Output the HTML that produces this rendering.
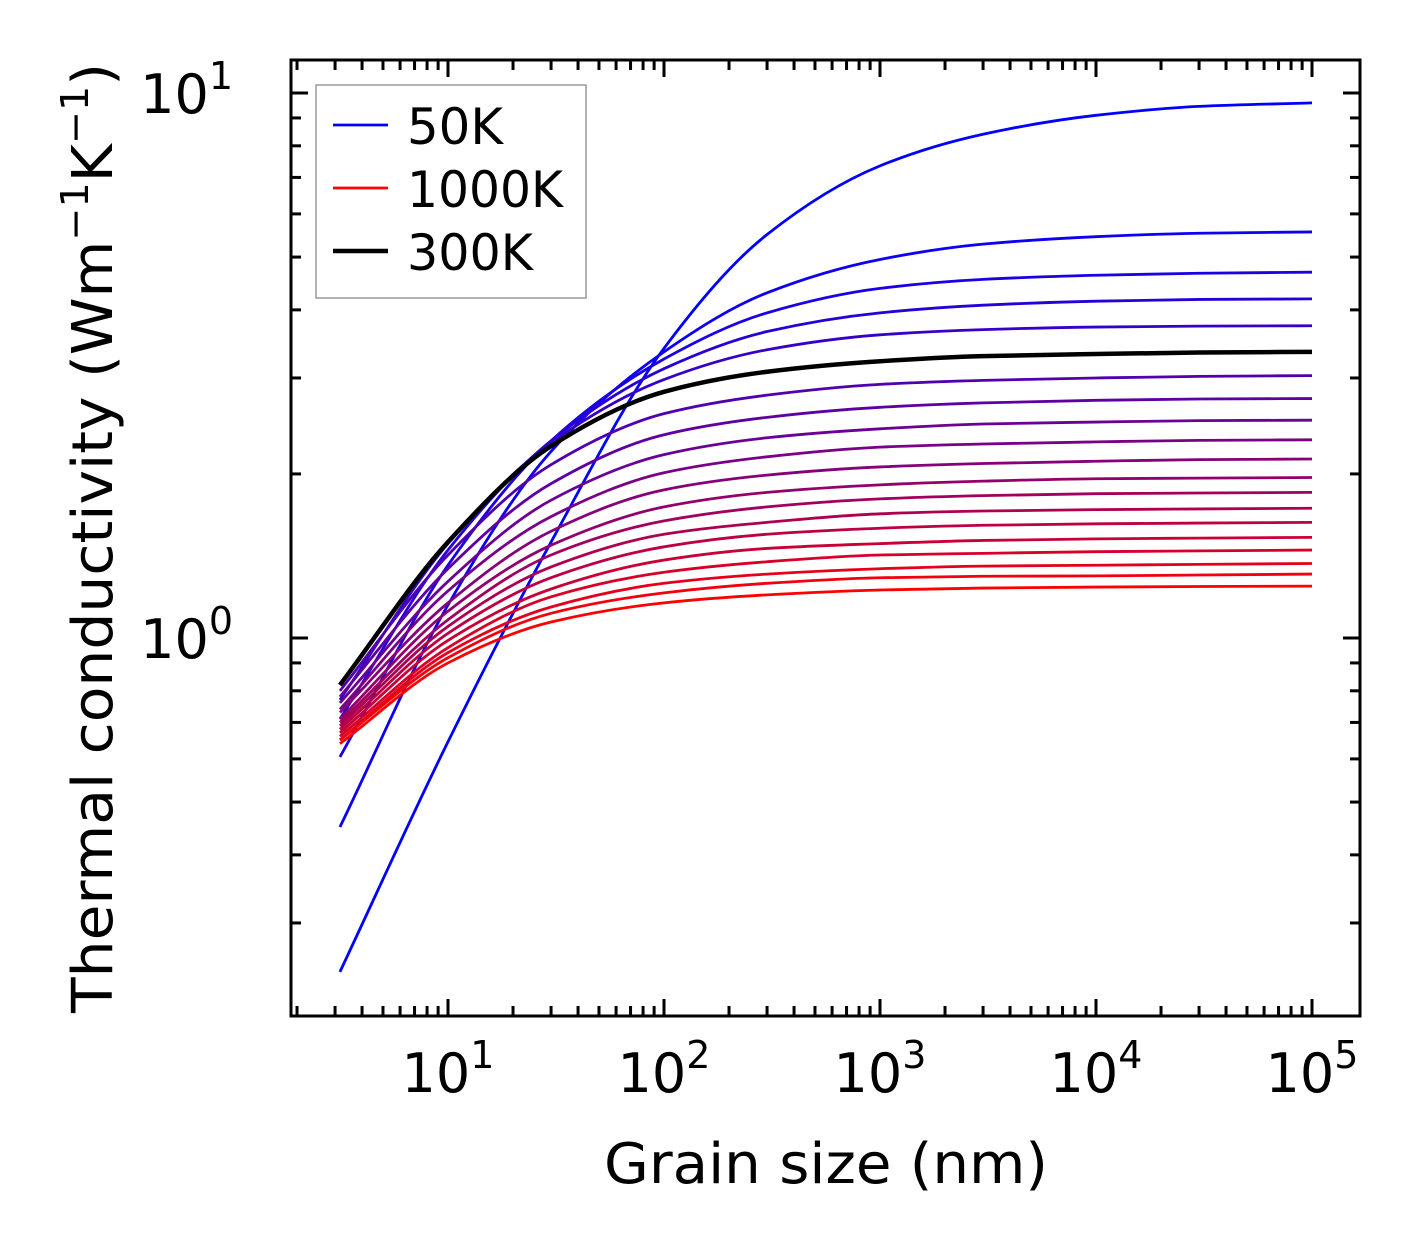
<!DOCTYPE html>
<html><head><meta charset="utf-8"><style>
html,body{margin:0;padding:0;background:#fff}
svg{display:block;font-family:"DejaVu Sans","Liberation Sans",sans-serif}
</style></head><body>
<svg id="chart" width="1421" height="1254" viewBox="0 0 1421 1254" xmlns="http://www.w3.org/2000/svg">
<g id="series"></g>
<g id="axes"></g>
<g>
  <rect x="316" y="85" width="270" height="213" fill="#fff" stroke="#999" stroke-width="1.5"/>
  <line x1="333" y1="125" x2="388" y2="125" stroke="#0000ff" stroke-width="2.8"/>
  <text x="407" y="144" font-size="50" textLength="96" lengthAdjust="spacingAndGlyphs">50K</text>
  <line x1="333" y1="188" x2="388" y2="188" stroke="#ff0000" stroke-width="2.8"/>
  <text x="407" y="207" font-size="50" textLength="156" lengthAdjust="spacingAndGlyphs">1000K</text>
  <line x1="333" y1="251" x2="388" y2="251" stroke="#000" stroke-width="4.5"/>
  <text x="407" y="270" font-size="50" textLength="126" lengthAdjust="spacingAndGlyphs">300K</text>
</g>
<text x="826" y="1183" font-size="56" text-anchor="middle" textLength="444" lengthAdjust="spacingAndGlyphs">Grain size (nm)</text>
<text transform="translate(112,538) rotate(-90)" font-size="56" text-anchor="middle" textLength="950" lengthAdjust="spacingAndGlyphs">Thermal conductivity (Wm<tspan font-size="38" dy="-24">−1</tspan><tspan dy="24">K</tspan><tspan font-size="38" dy="-24">−1</tspan><tspan dy="24">)</tspan></text>
</svg>
<script>
const grainSizes=[3.16,10,30,100,300,1000,3000,10000,30000,100000];
const temperatures=[50,100,150,200,250,300,350,400,450,500,550,600,650,700,750,800,850,900,950,1000];
const k50=[0.244,0.645,1.5,3.4,5.5,7.35,8.4,9.1,9.45,9.59];
const k100=[0.45,1.15,2.2,3.35,4.3,4.95,5.28,5.45,5.53,5.56];
const k150=[0.605,1.36,2.3,3.25,3.95,4.38,4.55,4.63,4.67,4.69];
const k200=[0.71,1.45,2.3,3.12,3.65,3.95,4.08,4.15,4.18,4.19];
const k250=[0.77,1.49,2.28,2.98,3.38,3.6,3.68,3.72,3.735,3.74];
const k300=[0.82,1.5,2.25,2.83,3.08,3.22,3.29,3.32,3.34,3.35];
const k350=[0.80,1.42,2.08,2.58,2.79,2.92,2.97,3.0,3.02,3.03];
const k400=[0.78,1.34,1.92,2.36,2.54,2.65,2.70,2.73,2.745,2.75];
const k450=[0.76,1.27,1.79,2.17,2.33,2.42,2.47,2.49,2.505,2.51];
const k500=[0.74,1.22,1.67,2.01,2.15,2.24,2.27,2.29,2.305,2.31];
const k550=[0.73,1.16,1.57,1.87,1.99,2.06,2.09,2.11,2.125,2.13];
const k600=[0.71,1.12,1.48,1.74,1.85,1.91,1.94,1.96,1.965,1.97];
const k650=[0.70,1.08,1.42,1.64,1.74,1.80,1.825,1.84,1.845,1.85];
const k700=[0.69,1.05,1.35,1.55,1.63,1.69,1.71,1.72,1.725,1.73];
const k750=[0.68,1.02,1.29,1.47,1.55,1.59,1.61,1.62,1.625,1.63];
const k800=[0.67,0.99,1.23,1.39,1.46,1.49,1.51,1.52,1.525,1.53];
const k850=[0.66,0.96,1.19,1.32,1.38,1.42,1.43,1.44,1.445,1.45];
const k900=[0.65,0.94,1.14,1.26,1.31,1.34,1.355,1.36,1.365,1.37];
const k950=[0.65,0.92,1.11,1.21,1.26,1.29,1.298,1.30,1.305,1.31];
const k1000=[0.64,0.9,1.07,1.16,1.2,1.225,1.235,1.24,1.243,1.245];
const allSeries=[k50,k100,k150,k200,k250,k300,k350,k400,k450,k500,k550,k600,k650,k700,k750,k800,k850,k900,k950,k1000];
const highlightSeries=k300;
const xTickLabels=["1","2","3","4","5"];
const yTickLabels=["0","1"];

const NS="http://www.w3.org/2000/svg";
const L=291,R=1360,T=60,B=1016;
const xLogMin=(L-232)/216,xLogMax=(R-232)/216;
const yLogMin=-(B-638)/545,yLogMax=(638-T)/545;
function xs(v){return L+(Math.log10(v)-xLogMin)/(xLogMax-xLogMin)*(R-L);}
function ys(v){return B-(Math.log10(v)-yLogMin)/(yLogMax-yLogMin)*(B-T);}
function mk(tag,attrs,parent){const e=document.createElementNS(NS,tag);for(const k in attrs)e.setAttribute(k,attrs[k]);parent.appendChild(e);return e;}
function pathFor(vals){
  const X=grainSizes.map(xs),Y=vals.map(ys),n=X.length;
  const d=[],m=new Array(n);
  for(let i=0;i<n-1;i++)d.push((Y[i+1]-Y[i])/(X[i+1]-X[i]));
  m[0]=d[0];m[n-1]=d[n-2];
  for(let i=1;i<n-1;i++){
    if(d[i-1]*d[i]<=0)m[i]=0;
    else{const h0=X[i]-X[i-1],h1=X[i+1]-X[i];const w1=2*h1+h0,w2=h1+2*h0;m[i]=(w1+w2)/(w1/d[i-1]+w2/d[i]);}
  }
  let s="M"+X[0]+","+Y[0];
  for(let i=0;i<n-1;i++){
    const h=(X[i+1]-X[i])/3;
    s+=" C"+(X[i]+h)+","+(Y[i]+m[i]*h)+" "+(X[i+1]-h)+","+(Y[i+1]-m[i+1]*h)+" "+X[i+1]+","+Y[i+1];
  }
  return s;
}
const sg=document.getElementById("series");
allSeries.forEach((vals,i)=>{
  const t=i/(allSeries.length-1);
  const col="rgb("+Math.round(255*t)+",0,"+Math.round(255*(1-t))+")";
  const e=mk("path",{d:pathFor(vals),fill:"none",stroke:col,"stroke-width":2.8},sg);
  
  
});
const hl=mk("path",{d:pathFor(highlightSeries),fill:"none",stroke:"#000","stroke-width":4.5},sg);



const ag=document.getElementById("axes");
const fr=mk("rect",{x:L,y:T,width:R-L,height:B-T,fill:"none",stroke:"#000","stroke-width":3},ag);


for(let dec=0;dec<=5;dec++){
  for(let m=1;m<=9;m++){
    const v=m*Math.pow(10,dec);const x=xs(v);
    if(x<L+1||x>R-1)continue;
    const len=m===1?17:10;
    const a=mk("line",{x1:x,y1:B,x2:x,y2:B-len,stroke:"#000","stroke-width":3},ag);
    
    
    const b=mk("line",{x1:x,y1:T,x2:x,y2:T+len,stroke:"#000","stroke-width":3},ag);
    
    
  }
}
xTickLabels.forEach(lbl=>{
  const x=xs(Math.pow(10,+lbl));
  const t=mk("text",{x:x,y:1092,"font-size":54,"text-anchor":"middle"},ag);
  
  
  t.textContent="10";
  const s=mk("tspan",{"font-size":38,dy:-24},t);s.textContent=lbl;
});
for(let dec=-1;dec<=1;dec++){
  for(let m=1;m<=9;m++){
    const v=m*Math.pow(10,dec);const y=ys(v);
    if(y<T+1||y>B-1)continue;
    const len=m===1?17:10;
    const a=mk("line",{x1:L,y1:y,x2:L+len,y2:y,stroke:"#000","stroke-width":3},ag);
    
    
    const b=mk("line",{x1:R,y1:y,x2:R-len,y2:y,stroke:"#000","stroke-width":3},ag);
    
    
  }
}
yTickLabels.forEach(lbl=>{
  const y=ys(Math.pow(10,+lbl));
  const t=mk("text",{x:233,y:y+20,"font-size":54,"text-anchor":"end"},ag);
  
  
  t.textContent="10";
  const s=mk("tspan",{"font-size":38,dy:-24},t);s.textContent=lbl;
});
</script>
</body></html>
